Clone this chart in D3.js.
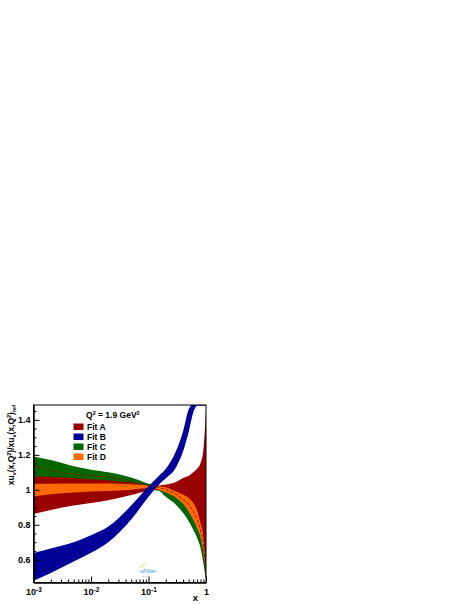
<!DOCTYPE html>
<meta charset="utf-8">
<script src="https://d3js.org/d3.v7.min.js"></script>
<style>
  body { margin: 0; background: #fff; }
  svg { display: block; }
  text { font-family: "Liberation Sans", Arial, sans-serif; font-weight: bold; fill: #000; }
  .axis path { stroke: #000; }
  .axis line { stroke: #000; }
</style>
<div id="chart"></div>
<script>
// x grid shared by all the bands
var xGrid = [0.001, 0.002, 0.005, 0.01, 0.02, 0.05, 0.1, 0.15, 0.2, 0.3, 0.4, 0.5, 0.6, 0.7, 0.8, 0.9, 0.95, 1];

// band edges (lo / hi), per fit
var fitC_hi = [1.19, 1.17, 1.135, 1.115, 1.10, 1.07, 1.035, 1.02, 1.015, 0.99, 0.972, 0.955, 0.925, 0.88, 0.81, 0.73, 0.63, 0.5];
var fitC_lo = [1.0, 1.0, 1.0, 1.0, 1.0, 1.0, 1.0, 0.995, 0.96, 0.915, 0.867, 0.82, 0.771, 0.725, 0.67, 0.58, 0.53, 0.486];
var fitA_hi = [1.076, 1.075, 1.068, 1.06, 1.055, 1.04, 1.028, 1.025, 1.03, 1.045, 1.067, 1.08, 1.10, 1.12, 1.15, 1.23, 1.33, 1.45];
var fitA_lo = [0.861, 0.885, 0.91, 0.925, 0.94, 0.97, 0.995, 1.0, 0.995, 0.97, 0.95, 0.92, 0.88, 0.84, 0.78, 0.70, 0.62, 0.5];
var fitD_hi = [1.034, 1.035, 1.036, 1.036, 1.036, 1.032, 1.025, 1.02, 1.015, 0.99, 0.972, 0.955, 0.925, 0.88, 0.81, 0.73, 0.63, 0.5];
var fitD_lo = [0.962, 0.975, 0.985, 0.99, 0.993, 1.0, 1.01, 1.0, 0.985, 0.955, 0.92, 0.875, 0.829, 0.78, 0.73, 0.645, 0.58, 0.49];
var fitB_hi = [0.638, 0.665, 0.70, 0.74, 0.79, 0.91, 1.02, 1.078, 1.12, 1.22, 1.335, 1.46, 1.49, 1.49, 1.49, 1.49, 1.49, 1.49];
var fitB_lo = [0.48, 0.525, 0.59, 0.64, 0.70, 0.83, 0.96, 1.028, 1.066, 1.128, 1.22, 1.33, 1.44, 1.48, 1.48, 1.48, 1.48, 1.48];
// dashed central line
var central = [1.14, 1.11, 1.09, 1.08, 1.073, 1.045, 1.025, 1.015, 1.0, 0.975, 0.945, 0.915, 0.875, 0.83, 0.77, 0.69, 0.61, 0.5];

var yMajor = [0.6, 0.8, 1, 1.2, 1.4];
var xMajor = [0.001, 0.01, 0.1, 1];
var xMajorLabels = [["10", "-3"], ["10", "-2"], ["10", "-1"], ["1", ""]];
var fitNames = ["Fit A", "Fit B", "Fit C", "Fit D"];
var fitColors = ["#990000", "#000099", "#006600", "#ff6a00"];

var W = 468, H = 605;
var x0 = 33.5, x1 = 206, y0 = 405, y1 = 582.5;

var svg = d3.select("#chart").append("svg")
  .attr("width", W).attr("height", H);

var x = d3.scaleLog().domain([0.001, 1]).range([x0, x1]);
var y = d3.scaleLinear().domain([0.47, 1.485]).range([y1, y0]);

svg.append("clipPath").attr("id", "clip")
  .append("rect").attr("x", x0).attr("y", y0).attr("width", x1 - x0).attr("height", y1 - y0);

var plot = svg.append("g").attr("clip-path", "url(#clip)");

function band(lo, hi) {
  return d3.area()
    .x(function(d, i) { return x(xGrid[i]); })
    .y0(function(d, i) { return y(lo[i]); })
    .y1(function(d, i) { return y(hi[i]); })
    .curve(d3.curveMonotoneX)(xGrid);
}

// drawing order: C, A, D, B
plot.append("path").attr("d", band(fitC_lo, fitC_hi)).attr("fill", fitColors[2]);
plot.append("path").attr("d", band(fitA_lo, fitA_hi)).attr("fill", fitColors[0]);
plot.append("path").attr("d", band(fitD_lo, fitD_hi)).attr("fill", fitColors[3]);
plot.append("path").attr("d", band(fitB_lo, fitB_hi)).attr("fill", fitColors[1]);

plot.append("path")
  .attr("d", d3.line()
    .x(function(d, i) { return x(xGrid[i]); })
    .y(function(d) { return y(d); })
    .curve(d3.curveMonotoneX)(central))
  .attr("fill", "none")
  .attr("stroke", "#8a1a00")
  .attr("stroke-width", 1)
  .attr("stroke-dasharray", "3,2");

// frame
svg.append("rect")
  .attr("x", x0).attr("y", y0).attr("width", x1 - x0).attr("height", y1 - y0)
  .attr("fill", "none").attr("stroke", "#000").attr("stroke-width", 1);

// y axis, ticks pointing inside
var yMinor = d3.range(0.5, 1.48, 0.05).map(function(v) { return Math.round(v * 100) / 100; })
  .filter(function(v) { return yMajor.indexOf(v) < 0; });
svg.append("g").attr("class", "axis")
  .attr("transform", "translate(" + x0 + ",0)")
  .call(d3.axisLeft(y).tickValues(yMinor).tickSize(-3).tickFormat("").tickSizeOuter(0));
svg.append("g").attr("class", "axis")
  .attr("transform", "translate(" + x0 + ",0)")
  .call(d3.axisLeft(y).tickValues(yMajor).tickSize(-6).tickPadding(3).tickSizeOuter(0)
    .tickFormat(function(d) { return d3.format("")(d); }))
  .selectAll("text").style("font-size", "9px");

// x axis, log minor ticks
var xMinor = [];
[0.001, 0.01, 0.1].forEach(function(dec) {
  for (var k = 2; k <= 9; k++) xMinor.push(dec * k);
});
svg.append("g").attr("class", "axis")
  .attr("transform", "translate(0," + y1 + ")")
  .call(d3.axisBottom(x).tickValues(xMinor).tickSize(-3).tickFormat("").tickSizeOuter(0));
var xAx = svg.append("g").attr("class", "axis")
  .attr("transform", "translate(0," + y1 + ")")
  .call(d3.axisBottom(x).tickValues(xMajor).tickSize(-6).tickPadding(6).tickSizeOuter(0).tickFormat(""));
xAx.selectAll(".tick text").each(function(d, i) {
  var t = d3.select(this).style("font-size", "9px");
  t.append("tspan").text(xMajorLabels[i][0]);
  if (xMajorLabels[i][1]) {
    t.append("tspan").attr("dy", "-0.45em").style("font-size", "6.5px").text(xMajorLabels[i][1]);
  }
});

// axis titles
svg.append("text")
  .attr("x", x1 - 8).attr("y", 601)
  .attr("text-anchor", "end")
  .style("font-size", "9.5px")
  .text("x");

var yt = svg.append("text")
  .attr("transform", "translate(14," + y0 + ") rotate(-90)")
  .attr("text-anchor", "end")
  .style("font-size", "8.5px");
yt.append("tspan").text("xu");
yt.append("tspan").attr("dy", "2").style("font-size", "5.5px").text("v");
yt.append("tspan").attr("dy", "-2").text("(x,Q");
yt.append("tspan").attr("dy", "-3").style("font-size", "5.5px").text("2");
yt.append("tspan").attr("dy", "3").text(")/xu");
yt.append("tspan").attr("dy", "2").style("font-size", "5.5px").text("v");
yt.append("tspan").attr("dy", "-2").text("(x,Q");
yt.append("tspan").attr("dy", "-3").style("font-size", "5.5px").text("2");
yt.append("tspan").attr("dy", "3").text(")");
yt.append("tspan").attr("dy", "2").style("font-size", "5.5px").text("ref");

// legend
var lg = svg.append("g");
var q = lg.append("text").attr("x", 86).attr("y", 418).style("font-size", "8.5px");
q.append("tspan").text("Q");
q.append("tspan").attr("dy", "-3").style("font-size", "5.5px").text("2");
q.append("tspan").attr("dy", "3").text(" = 1.9 GeV");
q.append("tspan").attr("dy", "-3").style("font-size", "5.5px").text("2");

fitNames.forEach(function(name, i) {
  var yy = 423.5 + i * 10;
  lg.append("rect").attr("x", 73.5).attr("y", yy).attr("width", 10).attr("height", 6.5)
    .attr("fill", fitColors[i]);
  lg.append("text").attr("x", 87).attr("y", yy + 6.5).style("font-size", "8.5px").text(name);
});

// xFitter mark
var logo = svg.append("g");
logo.append("text").attr("x", 148).attr("y", 573).attr("text-anchor", "middle")
  .style("font-size", "6px").style("font-style", "italic").style("font-weight", "normal")
  .style("fill", "#3a9ad9").text("xFitter");
logo.append("path").attr("d", "M140,568 q3,-5 6,-3").attr("fill", "none")
  .attr("stroke", "#f2c94c").attr("stroke-width", 0.8);
logo.append("text").attr("x", 146).attr("y", 578).attr("text-anchor", "middle")
  .style("font-size", "4px").style("font-weight", "normal").style("fill", "#999").text("• • •");
</script>
